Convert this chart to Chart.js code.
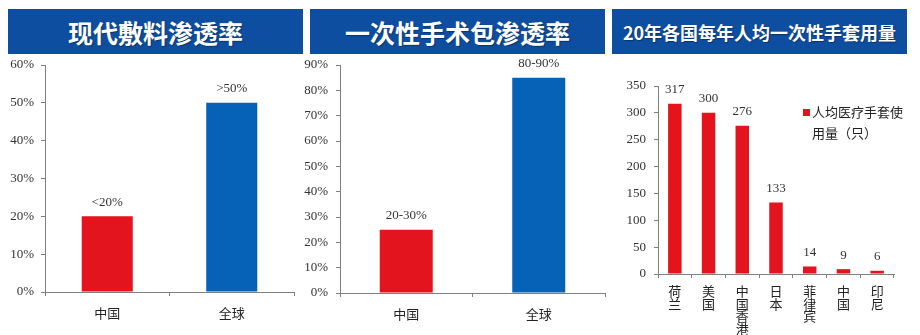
<!DOCTYPE html>
<html>
<head>
<meta charset="utf-8">
<script src="https://cdn.jsdelivr.net/npm/chart.js@4.4.1/dist/chart.umd.min.js"></script>
<style>
  html, body { margin: 0; padding: 0; background: #fff; }
  body { width: 920px; height: 335px; position: relative; overflow: hidden; }
  .head {
    position: absolute; top: 9px; height: 45px; background: #0e4ea0; color: #fff;
    font-family: "Noto Sans CJK SC", sans-serif; font-weight: 700;
    display: flex; align-items: center; justify-content: center;
    text-shadow: 1px 1px 1px rgba(0,0,0,0.35);
  }
  canvas { position: absolute; top: 55px; }
</style>
</head>
<body>
<div class="head" style="left:8px;width:295px;font-size:25px;">现代敷料渗透率</div>
<div class="head" style="left:310px;width:295px;font-size:25px;">一次性手术包渗透率</div>
<div class="head" style="left:612px;width:295px;font-size:18px;">20年各国每年人均一次性手套用量</div>

<canvas id="dressingChart" width="300" height="280" style="left:0px"></canvas>
<canvas id="packChart" width="310" height="280" style="left:300px"></canvas>
<canvas id="gloveChart" width="310" height="280" style="left:610px"></canvas>

<script>
  // Modern dressing penetration
  const dressingCats = ['中国', '全球'];
  const dressingValues = [20, 50];
  const dressingLabels = ['<20%', '>50%'];

  // Disposable surgical pack penetration
  const packCats = ['中国', '全球'];
  const packValues = [25, 85];
  const packLabels = ['20-30%', '80-90%'];

  // Gloves per person per year, 2020
  const gloveCats = ['荷兰', '美国', '中国香港', '日本', '菲律宾', '中国', '印尼'];
  const gloveValues = [317, 300, 276, 133, 14, 9, 6];
  const gloveLegend = ['人均医疗手套使', '用量（只）'];

  const RED = '#e3141e';
  const BLUE = '#0562b7';
  const AXIS = '#808080';
  const SERIF = 'Liberation Serif, serif';
  const SANS = 'Noto Sans CJK SC, sans-serif';

  // text above each bar
  const valueLabels = {
    id: 'valueLabels',
    afterDatasetsDraw(chart, args, opts) {
      const ctx = chart.ctx;
      const bars = chart.getDatasetMeta(0).data;
      ctx.save();
      ctx.font = '13px ' + SERIF;
      ctx.fillStyle = '#333';
      ctx.textAlign = 'center';
      ctx.textBaseline = 'middle';
      bars.forEach((bar, i) => {
        ctx.fillText(opts.texts[i], bar.x, bar.y - 14);
      });
      ctx.restore();
    }
  };

  // legend box drawn inside the plot, text wrapped onto two lines
  const sideLegend = {
    id: 'sideLegend',
    afterDraw(chart, args, opts) {
      if (!opts.lines) return;
      const ctx = chart.ctx;
      ctx.save();
      ctx.fillStyle = RED;
      ctx.fillRect(opts.x, opts.y - 3, 7, 7);
      ctx.fillStyle = '#222';
      ctx.font = '13px ' + SANS;
      ctx.textAlign = 'left';
      ctx.textBaseline = 'middle';
      opts.lines.forEach((line, i) => {
        ctx.fillText(line, opts.x + 9, opts.y + i * 21);
      });
      ctx.restore();
    }
  };

  function makeBar(id, cats, values, colors, texts, cfg) {
    const xTicks = {
      padding: cfg.xPad,
      color: '#222',
      font: { family: SANS, size: 13, lineHeight: cfg.xLine || 1.2 },
      maxRotation: 0,
      autoSkip: false
    };
    if (cfg.xCallback) xTicks.callback = cfg.xCallback;

    const yTicks = {
      stepSize: cfg.step,
      padding: cfg.yPad,
      color: '#333',
      font: { family: SERIF, size: 13 }
    };
    if (cfg.yCallback) yTicks.callback = cfg.yCallback;

    return new Chart(document.getElementById(id), {
      type: 'bar',
      data: {
        labels: cats,
        datasets: [{
          data: values,
          backgroundColor: colors,
          barPercentage: cfg.barPct,
          categoryPercentage: 1
        }]
      },
      options: {
        responsive: false,
        animation: false,
        layout: { padding: cfg.padding },
        plugins: {
          legend: { display: false },
          tooltip: { enabled: false },
          valueLabels: { texts: texts },
          sideLegend: cfg.legend || {}
        },
        scales: {
          x: {
            grid: { offset: true, drawOnChartArea: false, tickLength: 4, color: AXIS },
            border: { color: AXIS },
            ticks: xTicks,
            afterFit(scale) {
              scale.height = cfg.xHeight;
              scale.paddingLeft = 0;
              scale.paddingRight = 0;
            }
          },
          y: {
            min: 0,
            max: cfg.max,
            grid: { drawOnChartArea: false, tickLength: 4, color: AXIS },
            border: { color: AXIS },
            ticks: yTicks,
            afterFit(scale) {
              scale.width = cfg.yWidth;
              scale.paddingTop = 0;
              scale.paddingBottom = 0;
            }
          }
        }
      },
      plugins: [valueLabels, sideLegend]
    });
  }

  const pct = v => v + '%';

  makeBar('dressingChart', dressingCats, dressingValues, [RED, BLUE], dressingLabels, {
    barPct: 0.41, max: 60, step: 10, yWidth: 45, xHeight: 43, xPad: 9, yPad: 7,
    padding: { top: 10, right: 6, left: 0, bottom: 0 }, yCallback: pct
  });

  makeBar('packChart', packCats, packValues, [RED, BLUE], packLabels, {
    barPct: 0.4, max: 90, step: 10, yWidth: 40, xHeight: 42, xPad: 9, yPad: 8,
    padding: { top: 10, right: 5, left: 0, bottom: 0 }, yCallback: pct
  });

  makeBar('gloveChart', gloveCats, gloveValues, RED, gloveValues.map(String), {
    barPct: 0.4, max: 350, step: 50, yWidth: 48, xHeight: 61, xPad: 7, yPad: 8, xLine: 0.97,
    padding: { top: 31, right: 26, left: 0, bottom: 0 },
    xCallback: (v, i) => gloveCats[i].split(''),
    legend: { lines: gloveLegend, x: 193, y: 57 }
  });
</script>
</body>
</html>
